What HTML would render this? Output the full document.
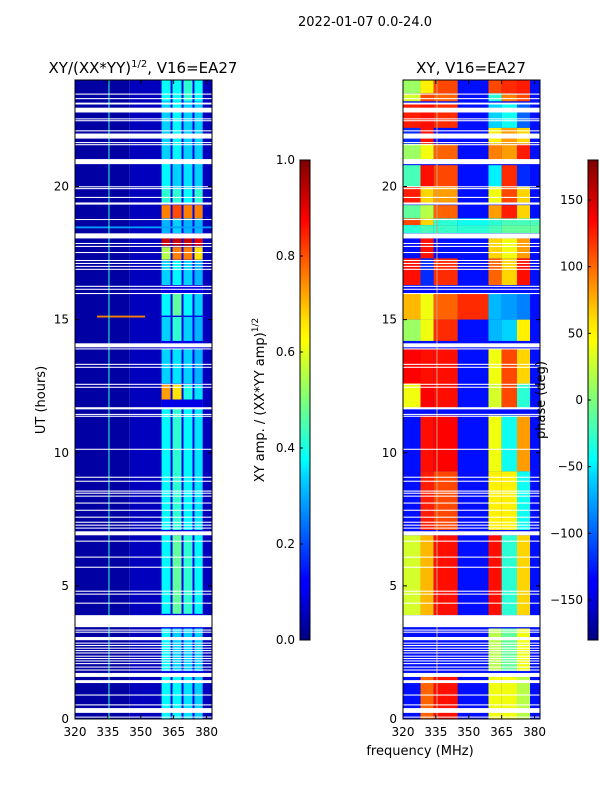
<!DOCTYPE html>
<html><head><meta charset="utf-8">
<style>
body{margin:0;background:#fff;width:600px;height:800px;overflow:hidden;font-family:"DejaVu Sans","Liberation Sans",sans-serif;}
svg text{font-family:"DejaVu Sans","Liberation Sans",sans-serif;fill:#000;}
</style></head>
<body>
<svg id="fig" width="600" height="800" xmlns="http://www.w3.org/2000/svg">
<defs>
<linearGradient id="jetv" x1="0" y1="1" x2="0" y2="0">
<stop offset="0" stop-color="#00007f"/><stop offset="0.11" stop-color="#0000ff"/><stop offset="0.125" stop-color="#0000ff"/>
<stop offset="0.34" stop-color="#00d4ff"/><stop offset="0.375" stop-color="#00ffff"/><stop offset="0.5" stop-color="#7dff7a"/>
<stop offset="0.625" stop-color="#ffff00"/><stop offset="0.66" stop-color="#ffe600"/><stop offset="0.875" stop-color="#ff0000"/><stop offset="1" stop-color="#7f0000"/>
</linearGradient>
</defs>
<text x="365" y="26" font-size="13" text-anchor="middle">2022-01-07 0.0-24.0</text>
<g id="ampPanel"></g>
<g id="phasePanel"></g>
<text x="143" y="73" font-size="15" text-anchor="middle">XY/(XX*YY)<tspan font-size="10" dy="-6">1/2</tspan><tspan dy="6">, V16=EA27</tspan></text>
<text x="471" y="73" font-size="15" text-anchor="middle">XY, V16=EA27</text>
<text transform="translate(45,400) rotate(-90)" font-size="13" text-anchor="middle">UT (hours)</text>
<text x="420" y="755" font-size="13" text-anchor="middle">frequency (MHz)</text>
<rect x="300" y="160" width="10" height="480" fill="url(#jetv)" stroke="#000" stroke-width="1"/>
<rect x="588" y="160" width="10" height="480" fill="url(#jetv)" stroke="#000" stroke-width="1"/>
<text transform="translate(264,400) rotate(-90)" font-size="13" text-anchor="middle">XY amp. / (XX*YY amp)<tspan font-size="9" dy="-6">1/2</tspan></text>
<text transform="translate(545,400) rotate(-90)" font-size="13" text-anchor="middle">phase (deg)</text>
<g id="cbticks"></g>
</svg>
<script>
// ---- data ----
const hourTicks = [0,5,10,15,20];
const freqTicks = [320,335,350,365,380];
const ampTicks = [0.0,0.2,0.4,0.6,0.8,1.0];
const phaseTicks = [-150,-100,-50,0,50,100,150];
const gaps = [[23.45,23.49],[23.28,23.32],[23.08,23.15],[22.78,22.96],[22.52,22.56],[22.45,22.49],[22.07,22.11],[21.80,21.99],[21.63,21.67],[21.55,21.59],[20.84,21.03],[19.97,20.01],[19.90,19.94],[19.57,19.61],[19.32,19.40],[18.74,18.78],[18.05,18.24],[17.84,17.88],[17.73,17.77],[17.50,17.54],[17.20,17.24],[17.09,17.13],[16.98,17.02],[16.87,16.91],[16.23,16.27],[16.12,16.16],[15.96,16.0],[13.96,14.11],[13.88,13.92],[13.30,13.34],[13.19,13.23],[12.55,12.59],[12.44,12.48],[11.63,11.71],[11.42,11.46],[11.35,11.39],[10.11,10.15],[9.06,9.10],[8.91,8.95],[8.54,8.58],[8.46,8.50],[8.35,8.39],[8.09,8.13],[7.82,7.86],[7.56,7.60],[7.37,7.41],[7.26,7.30],[7.15,7.19],[6.90,7.05],[6.66,6.70],[6.06,6.10],[5.68,5.72],[4.78,4.82],[4.67,4.71],[4.33,4.37],[3.45,3.90],[3.32,3.36],[3.24,3.28],[2.96,3.08],[2.83,2.87],[2.74,2.78],[2.64,2.68],[2.55,2.59],[2.46,2.50],[2.34,2.38],[2.25,2.29],[2.16,2.20],[2.06,2.10],[1.93,1.97],[1.82,1.86],[1.58,1.73],[1.35,1.46],[0.88,0.92],[0.51,0.55],[0.23,0.41],[0.06,0.09]];
const ampBackground = [[320,345,0.035],[345,359.5,0.06],[359.5,378.2,0.1],[378.2,382.5,0.06]];
const ampBands = [[359.5,363.6],[364.5,368.6],[369.5,373.6],[374.5,378.2]];
const ampBlocks = [
[23.2,24,0.38,0.38,0.42,0.38],[21.0,23.2,0.33,0.37,0.33,0.33],[19.9,21.0,0.37,0.33,0.35,0.33],
[19.4,19.9,0.42,0.42,0.38,0.42],[18.8,19.3,0.75,0.8,0.75,0.75],[18.25,18.8,0.3,0.33,0.3,0.3],
[17.78,18.05,0.93,0.93,0.93,0.9],[17.25,17.72,0.55,0.75,0.75,0.65],[16.3,17.2,0.33,0.37,0.33,0.3],
[15.15,16.0,0.37,0.47,0.37,0.33],[14.2,15.1,0.33,0.42,0.33,0.3],[12.6,13.9,0.33,0.35,0.33,0.3],
[12.0,12.55,0.72,0.65,0.4,0.35],[7.1,11.7,0.37,0.42,0.37,0.35],[3.95,6.9,0.37,0.47,0.42,0.37],
[1.8,3.4,0.37,0.33,0.33,0.33],[0,1.6,0.37,0.37,0.35,0.33]];
const ampStreaks = [[18.43,18.5,320,382.5,0.28],[15.08,15.15,330,352,0.75]];
const rfiChannels = [335.5];
const phaseEdges = [320,328,334,345,359,365,372,378,382.5];
const phaseBlocks = [
[23.5,24,10,50,110,-130,110,120,125,-130],[23.2,23.5,30,110,100,-130,-30,90,110,-130],
[22.2,23.1,125,130,120,-130,-60,-40,-100,-130],[21.6,22.2,-120,130,-130,-130,50,80,60,-130],
[21.0,21.6,10,40,100,-130,90,80,125,-130],[20.0,20.8,-20,130,110,-130,-50,120,-120,-130],
[19.4,20.0,125,60,80,-130,40,110,60,-130],[18.8,19.3,-10,20,100,-130,80,125,60,-130],
[18.55,18.8,110,60,-30,-40,-30,-20,-20,-20],[18.25,18.55,-30,-20,-25,-30,-20,-10,-10,-10],
[17.3,18.05,-130,130,-130,-130,60,40,80,-130],[16.3,17.3,130,-120,120,-130,100,60,130,-130],
[15.0,16.0,70,40,100,120,-70,-80,-90,-130],[14.2,15.0,10,40,120,-130,-70,-60,50,-130],
[12.6,13.9,135,130,130,-130,40,110,60,-130],[11.7,12.6,40,135,130,-130,30,110,-30,-130],
[9.3,11.4,-130,130,135,-130,40,-40,80,-130],[7.1,9.3,-130,125,110,-130,50,50,-40,-130],
[3.9,6.9,30,70,130,-130,130,-30,60,-130],[1.8,3.4,-130,-130,-130,-130,20,-10,40,-130],
[0,1.6,-130,100,130,-130,40,40,20,-130]];
// ---- scales ----
const NS='http://www.w3.org/2000/svg';
const P1={x0:75,x1:212}, P2={x0:403,x1:540}, Y0=80, Y1=719;
function xS(p,f){return p.x0+(f-320)/(382.5-320)*(p.x1-p.x0);}
function yS(h){return Y1-h/24*(Y1-Y0);}
function clamp(v){return Math.max(0,Math.min(1,v));}
function jet(t){t=clamp(t);const r=clamp(1.5-Math.abs(4*t-3)),g=clamp(1.5-Math.abs(4*t-2)),b=clamp(1.5-Math.abs(4*t-1));return `rgb(${Math.round(r*255)},${Math.round(g*255)},${Math.round(b*255)})`;}
function ph(v){return jet((v+180)/360);}
function rect(g,x,y,w,h,fill,name){const r=document.createElementNS(NS,'rect');r.setAttribute('x',x);r.setAttribute('y',y);r.setAttribute('width',w);r.setAttribute('height',h);r.setAttribute('fill',fill);


g.appendChild(r);return r;}
function txt(g,x,y,s,anchor,name){const t=document.createElementNS(NS,'text');t.setAttribute('x',x);t.setAttribute('y',y);t.setAttribute('font-size','12');t.setAttribute('text-anchor',anchor);t.textContent=s;


g.appendChild(t);}
function line(g,x1,y1,x2,y2,c,w,name){const l=document.createElementNS(NS,'line');l.setAttribute('x1',x1);l.setAttribute('y1',y1);l.setAttribute('x2',x2);l.setAttribute('y2',y2);l.setAttribute('stroke',c);l.setAttribute('stroke-width',w);


g.appendChild(l);}
function axes(g,p){
  gaps.forEach(gp=>rect(g,p.x0,yS(gp[1]),p.x1-p.x0,Math.max(1,yS(gp[0])-yS(gp[1])),'#fff','data-gap'));
  const f=rect(g,p.x0,Y0,p.x1-p.x0,Y1-Y0,'none','plot-frame');f.setAttribute('stroke','#000');f.setAttribute('stroke-width','1');
  hourTicks.forEach(h=>{line(g,p.x0,yS(h),p.x0+4,yS(h),'#000',1,'y-tick');line(g,p.x1,yS(h),p.x1-4,yS(h),'#000',1,'y-tick');txt(g,p.x0-6,yS(h)+4,String(h),'end','y-tick-label');});
  freqTicks.forEach(fr=>{line(g,xS(p,fr),Y1,xS(p,fr),Y1-4,'#000',1,'x-tick');line(g,xS(p,fr),Y0,xS(p,fr),Y0+4,'#000',1,'x-tick');txt(g,xS(p,fr),Y1+17,String(fr),'middle','x-tick-label');});
}
// amplitude panel
const ga=document.getElementById('ampPanel');
ampBackground.forEach(b=>rect(ga,xS(P1,b[0]),Y0,xS(P1,b[1])-xS(P1,b[0]),Y1-Y0,jet(b[2]),'amp-background'));
ampBlocks.forEach(b=>{ampBands.forEach((bd,i)=>rect(ga,xS(P1,bd[0]),yS(b[1]),xS(P1,bd[1])-xS(P1,bd[0]),yS(b[0])-yS(b[1]),jet(b[2+i]),'amp-cell'));});
ampStreaks.forEach(s=>rect(ga,xS(P1,s[2]),yS(s[1]),xS(P1,s[3])-xS(P1,s[2]),yS(s[0])-yS(s[1]),jet(s[4]),'amp-streak'));
rfiChannels.forEach(f=>rect(ga,xS(P1,f)-0.5,Y0,1,Y1-Y0,jet(0.42),'rfi-channel'));
axes(ga,P1);
// phase panel
const gp=document.getElementById('phasePanel');
rect(gp,P2.x0,Y0,P2.x1-P2.x0,Y1-Y0,ph(-130),'phase-background');
phaseBlocks.forEach(b=>{for(let i=0;i<phaseEdges.length-1;i++){rect(gp,xS(P2,phaseEdges[i]),yS(b[1]),xS(P2,phaseEdges[i+1])-xS(P2,phaseEdges[i]),yS(b[0])-yS(b[1]),ph(b[2+i]),'phase-cell');}});
rfiChannels.forEach(f=>rect(gp,xS(P2,f)-0.5,Y0,1,Y1-Y0,'#c8a080','rfi-channel'));
axes(gp,P2);
// colorbar ticks
const gc=document.getElementById('cbticks');
ampTicks.forEach(v=>{const y=640-v*480;line(gc,300,y,303,y,'#000',1,'amp-colorbar-tick');txt(gc,295,y+4,v.toFixed(1),'end','amp-colorbar-tick-label');});
phaseTicks.forEach(v=>{const y=400-v/180*240;line(gc,588,y,591,y,'#000',1,'phase-colorbar-tick');txt(gc,583,y+4,v<0?'\u2212'+Math.abs(v):String(v),'end','phase-colorbar-tick-label');});
</script>
</body></html>
